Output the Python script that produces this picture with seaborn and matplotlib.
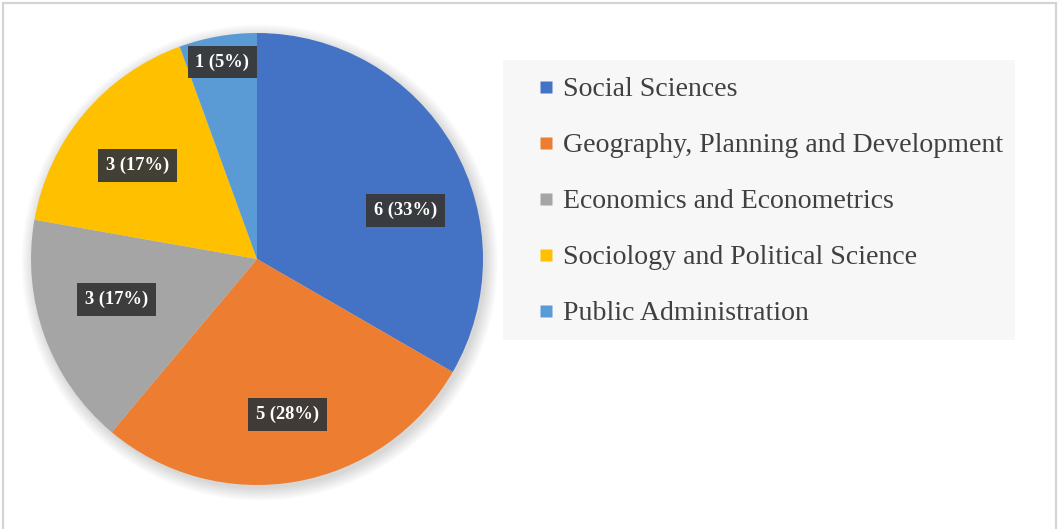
import numpy as np
import matplotlib
matplotlib.use("Agg")
import matplotlib.pyplot as plt
import seaborn as sns
from matplotlib.patches import Rectangle, Circle
from matplotlib.lines import Line2D

# Subject areas and number of documents in each
categories = [
    "Social Sciences",
    "Geography, Planning and Development",
    "Economics and Econometrics",
    "Sociology and Political Science",
    "Public Administration",
]
counts = [6, 5, 3, 3, 1]
percent_labels = [33, 28, 17, 17, 5]

colors = ["#4472C4", "#ED7D31", "#A5A5A5", "#FFC000", "#5B9BD5"]

sns.set_theme(style="white")
plt.rcParams["font.family"] = ["Liberation Serif", "DejaVu Serif"]

W, H = 1058, 529
fig = plt.figure(figsize=(W / 100, H / 100), dpi=100)
fig.patch.set_facecolor("white")

# thin grey frame around the chart area
fig.patches.append(Rectangle((3 / W, -0.05), (1056 - 3) / W, (H - 3) / H + 0.05,
                             transform=fig.transFigure, fill=False,
                             edgecolor="#d4d4d4", linewidth=1.6, zorder=0))

# pie axes: centre (257, 259) px, radius 226 px
cx, cy, r = 257, 259, 226
ax = fig.add_axes([(cx - r) / W, (H - cy - r) / H, 2 * r / W, 2 * r / H])

# soft shadow beneath the pie
for k in range(10):
    ax.add_patch(Circle((0.012, -0.016), 1.0 + 0.006 * k, facecolor="black",
                        alpha=0.016, edgecolor="none", zorder=0, clip_on=False))

wedges, _ = ax.pie(counts, colors=colors, startangle=90, counterclock=False,
                   wedgeprops=dict(linewidth=0, edgecolor="none"))
for w in wedges:
    w.set_zorder(2)
    w.set_clip_on(False)
ax.set_xlim(-1, 1)
ax.set_ylim(-1, 1)
ax.set_aspect("equal")
ax.axis("off")

# value labels placed inside each wedge
label_dist = [0.69, 0.70, 0.645, 0.67, 0.885]
label_shift = [-12, 1, -4, 2, 0]
for w, n, p, d, s in zip(wedges, counts, percent_labels, label_dist, label_shift):
    mid = np.deg2rad((w.theta1 + w.theta2) / 2 + s)
    x, y = d * np.cos(mid), d * np.sin(mid)
    ax.text(x, y, f"{n} ({p}%)", ha="center", va="center", color="white",
            fontsize=13.3, fontweight="bold", zorder=5,
            bbox=dict(boxstyle="square,pad=0.42", facecolor="#383838",
                      edgecolor="none", alpha=0.95))

# legend panel
lx0, lx1, ly0, ly1 = 503, 1015, 60, 340
fig.patches.append(Rectangle((lx0 / W, (H - ly1) / H), (lx1 - lx0) / W, (ly1 - ly0) / H,
                             transform=fig.transFigure, facecolor="#f7f7f7",
                             edgecolor="none", zorder=0))
handles = [Line2D([], [], marker="s", linestyle="none", markersize=9,
                  markerfacecolor=c, markeredgecolor="none") for c in colors]
fig.legend(handles, categories, loc="upper left",
           bbox_to_anchor=(525 / W, (H - 63) / H), frameon=False,
           fontsize=20.1, labelspacing=1.09, handlelength=0.5,
           handletextpad=0.35, borderpad=0, labelcolor="#404040")

fig.savefig("out.png", dpi=100, facecolor="white")
